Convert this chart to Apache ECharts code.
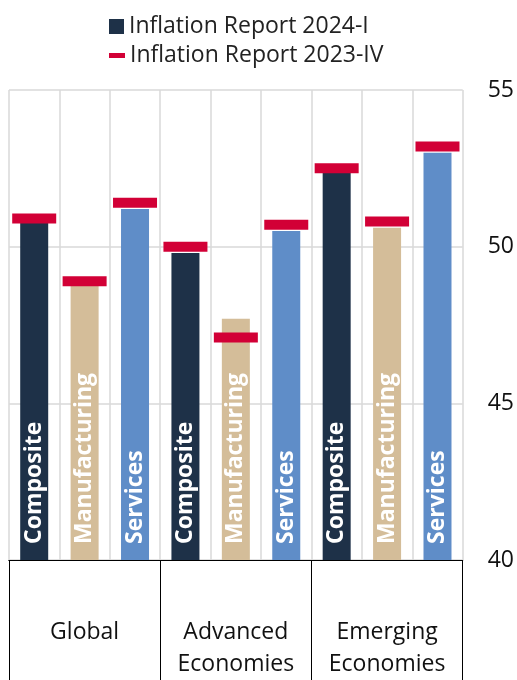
<!DOCTYPE html>
<html>
<head>
<meta charset="utf-8">
<script src="https://cdn.jsdelivr.net/npm/echarts@6/dist/echarts.min.js"></script>
<style>
  html, body { margin: 0; padding: 0; background: #fff; }
  #chart { width: 517px; height: 680px; }
</style>
</head>
<body>
<div id="chart"></div>
<script>
// sub-index names (one bar each) and the three regions they sit under
const subIndex = ['Composite', 'Manufacturing', 'Services'];
const regions = ['Global', 'Advanced\nEconomies', 'Emerging\nEconomies'];
const yTicks = [40, 45, 50, 55];

// PMI readings, order: Global C/M/S, Advanced C/M/S, Emerging C/M/S
const report2024I = [50.8, 48.8, 51.2, 49.8, 47.7, 50.5, 52.4, 50.6, 53.0];
const report2023IV = [50.9, 48.9, 51.4, 50.0, 47.1, 50.7, 52.5, 50.8, 53.2];

const barColors = ['#1e3148', '#d4bd99', '#5f8dc8'];
const font = 'Open Sans';

const cats = [];
regions.forEach(() => subIndex.forEach(s => cats.push(s)));

const chart = echarts.init(document.getElementById('chart'));

chart.setOption({
  animation: false,
  textStyle: { fontFamily: font },
  legend: [
    {
      data: ['Inflation Report 2024-I'],
      left: 104, top: 10,
      itemWidth: 15, itemHeight: 15,
      icon: 'rect',
      textStyle: { fontFamily: font, fontSize: 23, color: '#222' }
    },
    {
      data: ['Inflation Report 2023-IV'],
      left: 104, top: 39,
      itemWidth: 16, itemHeight: 5,
      icon: 'rect',
      textStyle: { fontFamily: font, fontSize: 23, color: '#222' }
    }
  ],
  grid: { left: 9, right: 53, top: 90, bottom: 120, containLabel: false },
  xAxis: [
    {
      type: 'category',
      data: cats,
      axisLine: { show: true, lineStyle: { color: '#000', width: 1 } },
      axisTick: { show: false },
      axisLabel: { show: false, interval: 0 },
      splitLine: { show: true, interval: 0, lineStyle: { color: '#d9d9d9', width: 1.5 } }
    },
    {
      type: 'category',
      data: regions,
      position: 'bottom',
      axisLine: { show: true, lineStyle: { color: '#000', width: 1 } },
      axisTick: { show: true, length: 122, lineStyle: { color: '#000', width: 1 } },
      axisLabel: {
        margin: 56, fontSize: 23, lineHeight: 32, color: '#111',
        verticalAlign: 'top', fontFamily: font, interval: 0
      },
      splitLine: { show: false }
    }
  ],
  yAxis: {
    type: 'value',
    position: 'right',
    min: 40, max: 55, interval: 5,
    axisLine: { show: false },
    axisTick: { show: false },
    axisLabel: {
      margin: 25, fontSize: 23, color: '#111', fontFamily: font,
      formatter: v => (yTicks.includes(v) ? String(v) : '')
    },
    splitLine: { show: true, lineStyle: { color: '#d9d9d9', width: 1.5 } }
  },
  series: [
    {
      name: 'Inflation Report 2024-I',
      type: 'bar',
      barWidth: 28,
      itemStyle: { color: barColors[0] },
      data: report2024I.map((v, i) => ({
        value: v,
        itemStyle: { color: barColors[i % 3] }
      })),
      label: {
        show: true,
        position: 'insideBottom',
        distance: 16,
        rotate: 90,
        align: 'left',
        verticalAlign: 'middle',
        color: '#fff',
        fontWeight: 'bold',
        fontSize: 23,
        fontFamily: font,
        formatter: p => subIndex[p.dataIndex % 3]
      },
      z: 2
    },
    {
      name: 'Inflation Report 2023-IV',
      type: 'scatter',
      symbol: 'rect',
      symbolSize: [44, 10],
      itemStyle: { color: '#d20036', opacity: 1 },
      data: report2023IV,
      z: 3
    }
  ]
});
</script>
</body>
</html>
